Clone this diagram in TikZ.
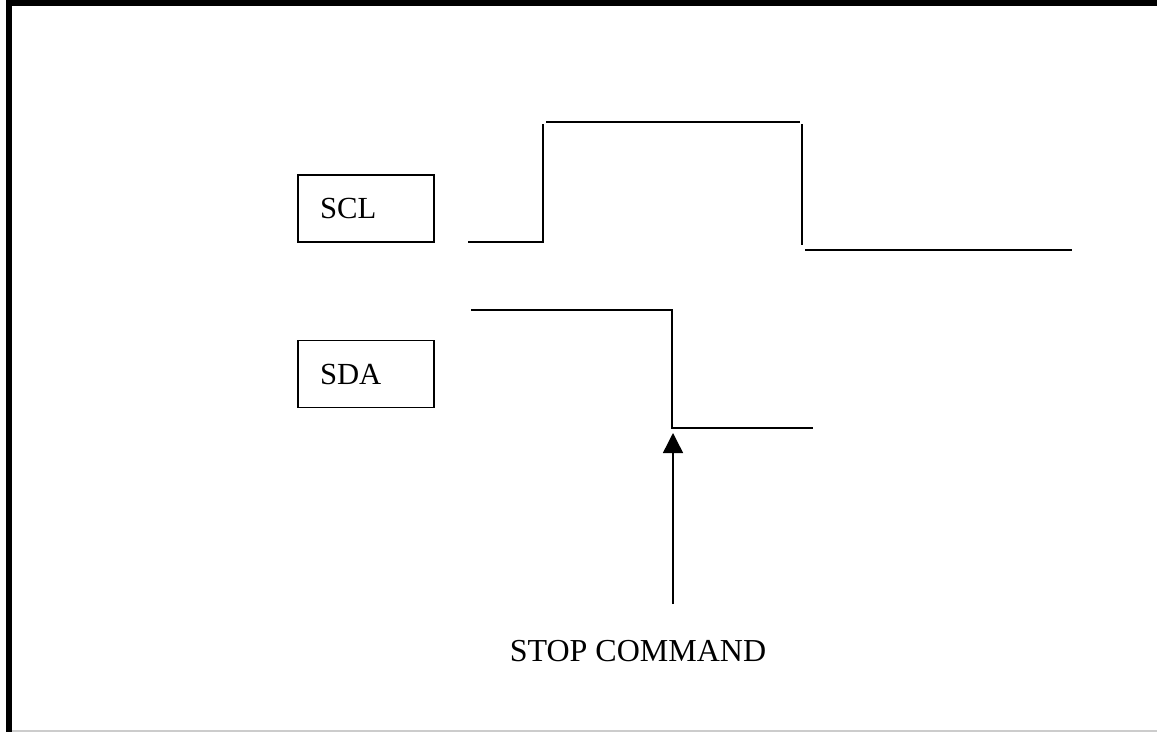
\documentclass[tikz,border=0pt]{standalone}
\usepackage{fontspec}
\setmainfont{Liberation Serif}
\usetikzlibrary{arrows.meta, positioning}
\tikzset{
	sigbox/.style={draw=black, line width=1.1pt, minimum height=50.25pt, text width=69pt, inner xsep=16.5pt, align=left, font=\fontsize{23}{26}\selectfont},
	wave/.style={line width=1.5pt},
	stoparrow/.style={-{Triangle[length=15pt, width=15pt]}, line width=1.1pt},
	stoplabel/.style={font=\fontsize{24}{27}\selectfont, inner sep=0pt},
}
\begin{document}
\begin{tikzpicture}[x=0.75pt, y=-0.75pt]
	\useasboundingbox (0,0) rectangle (1157,732);
	% frame
	\fill[black] (6,0) rectangle (1157,6);
	\fill[black] (6,0) rectangle (12,732);
	\draw[gray!40, line width=1pt] (12,731) -- (1157,731);
	% signal names
	\node[sigbox] (scl) at (366,208.5) {SCL};
	\node[sigbox] (sda) at (366,374) {SDA};
	% SCL
	\draw[wave] (468,242) -- (543,242) -- (543,124);
	\draw[wave] (546,122) -- (800,122);
	\draw[wave] (802,124) -- (802,245);
	\draw[wave] (805,250) -- (1072,250);
	% SDA
	\coordinate (sdalow) at (673,433);
	\draw[wave] (471,310) -- (672,310) -- (672,428) -- (813,428);
	% stop marker
	\node[stoplabel] (stop) at (638,651) {STOP COMMAND};
	\coordinate (arrtail) at (673,604);
	\draw[stoparrow] (arrtail) -- (sdalow);
\end{tikzpicture}
\end{document}
